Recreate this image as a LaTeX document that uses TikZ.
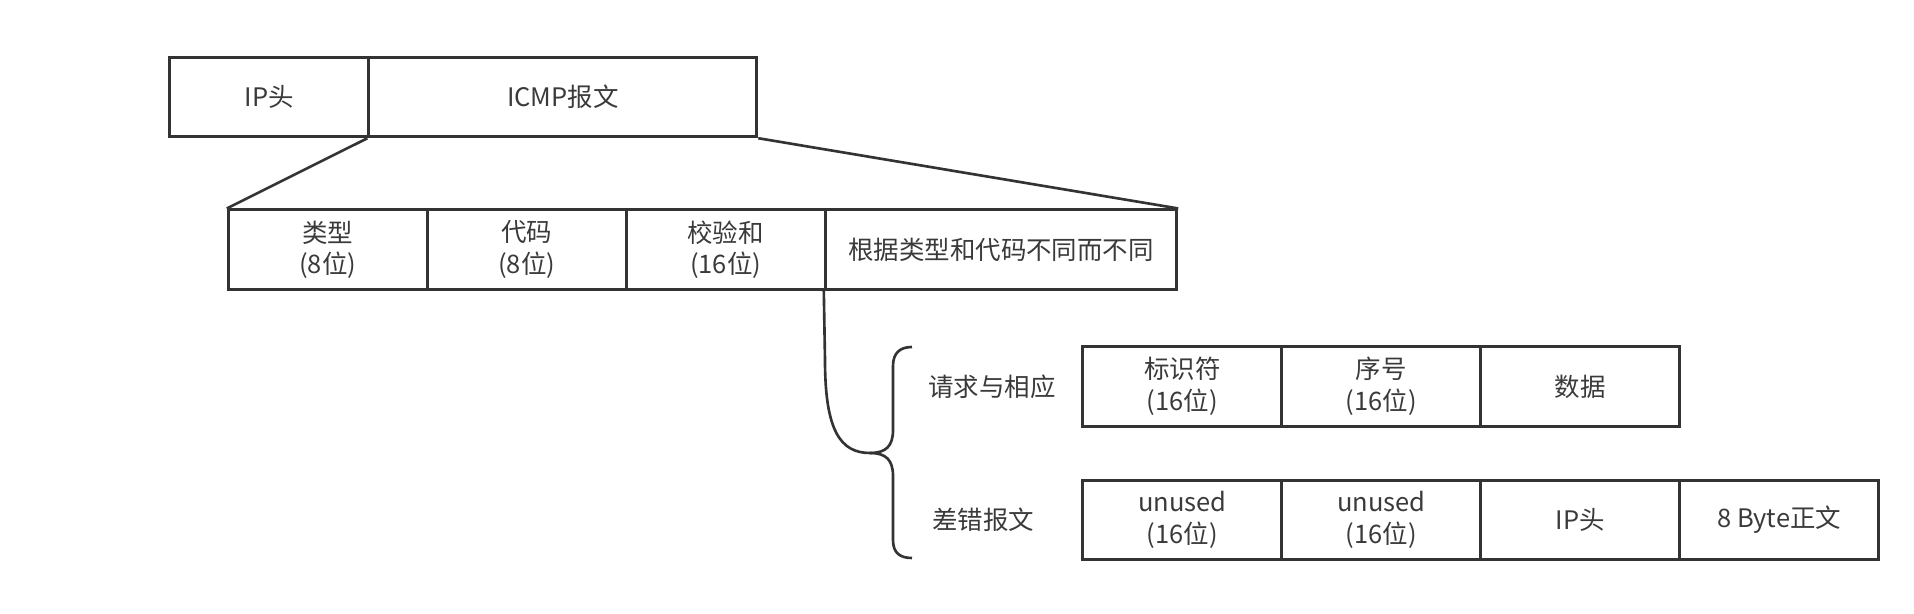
\documentclass[tikz,border=0pt]{standalone}
\usepackage{fontspec}
\setmainfont{Noto Sans CJK SC}
\definecolor{linegray}{HTML}{333333}
\definecolor{textgray}{HTML}{3A3A3A}
\begin{document}
\begin{tikzpicture}[x=0.02cm, y=-0.02cm, line width=1.5pt, linegray,
	every node/.style={text=textgray, font=\fontsize{14.5}{18}\selectfont},
	field/.style={draw=linegray, line width=1.7pt, rectangle, inner sep=0pt, minimum height=1.59cm, minimum width=3.98cm, align=center}]
	\useasboundingbox (0,0) rectangle (1914,614);

	%––––– row 1 –––––
	\node[field] (a1) at (269.2,97) {IP头};
	\node[field, minimum width=7.76cm] (a2) at (562.8,97) {ICMP报文};

	%––––– row 2 –––––
	\node[field] (b1) at (327.8,249.7) {类型\\(8位)};
	\node[field] (b2) at (526.7,249.7) {代码\\(8位)};
	\node[field] (b3) at (725.7,249.7) {校验和\\(16位)};
	\node[field, minimum width=7.03cm] (b4) at (1001,249.7) {根据类型和代码不同而不同};
	\draw (a2.south west) -- (b1.north west);
	\draw (a2.south east) -- (b4.north east);

	%––––– brace –––––
	\coordinate (tip) at (870,453);
	\draw (b4.south west) -- (825,360) .. controls (825,430) and (840,453) .. (tip);
	\draw (tip) .. controls (886,453) and (893,446) .. (893,430) -- (893,366)
		.. controls (893,353) and (900,347) .. (912,347);
	\draw (tip) .. controls (886,453) and (893,460) .. (893,476) -- (893,540)
		.. controls (893,553) and (900,558) .. (912,558);

	%––––– row 3 –––––
	\node (c0) at (992,387) {请求与相应};
	\node[field] (c1) at (1182.3,386.4) {标识符\\(16位)};
	\node[field] (c2) at (1381.2,386.4) {序号\\(16位)};
	\node[field] (c3) at (1580.2,386.4) {数据};

	%––––– row 4 –––––
	\node (d0) at (983,520) {差错报文};
	\node[field] (d1) at (1182.3,520) {unused\\(16位)};
	\node[field] (d2) at (1381.2,520) {unused\\(16位)};
	\node[field] (d3) at (1580.2,520) {IP头};
	\node[field] (d4) at (1779.2,520) {8 Byte正文};
\end{tikzpicture}
\end{document}
